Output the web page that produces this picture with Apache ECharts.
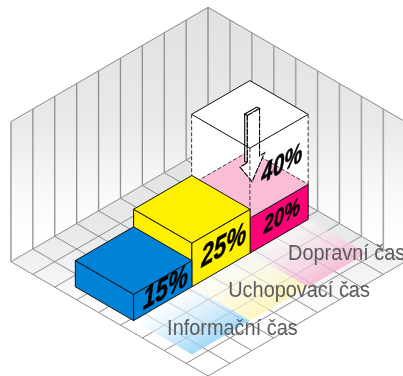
<!DOCTYPE html>
<html>
<head>
<meta charset="utf-8">
<style>
  html, body { margin: 0; padding: 0; background: #fff; }
  #main { width: 403px; height: 376px; }
</style>
<script src="https://cdn.jsdelivr.net/npm/echarts@6/dist/echarts.min.js"></script>
</head>
<body>
<div id="main"></div>
<script>
// data (back to front in the row is Dopravni -> Informacni)
var categories = ['Informační čas', 'Uchopovací čas', 'Dopravní čas'];
var shares = [15, 25, 20];
var shareLabels = ['15%', '25%', '20%'];
var ghostShare = 40;
var ghostLabel = '40%';

// room and row layout, in floor cells and percent
var cells = 9;
var wallTop = 80;
var rowU = [2.46, 5.12];
var rowV = [5.86, 3.2, 0.55];
var barSize = 2.66;
var pctToDepth = 1.75 / 12.7;

var barTop = ['#0082d6', '#fff000', '#f9bdd7'];
var barSide = ['#0082d6', '#fff000', '#ff0077'];
var glow = ['rgba(140,208,246,0.8)', 'rgba(255,244,170,0.75)', 'rgba(245,175,208,0.8)'];
var labelSizes = [30, 30, 24];
var nameU = [6.23, 6.13, 6.04];
var nameV = [8.1, 5.21, 2.39];

// arrow face: offset along v, height in percent
var arrowV = [0.237, -0.32, -0.32, -0.55, 0.02, 0.57, 0.237];
var arrowP = [61, 61, 34, 34, 21.7, 34, 34];

function projector(api) {
  return function (u, v, pct) {
    return api.coord([u - v, u + v - (pct || 0) * pctToDepth]);
  };
}

function poly(points, fill, stroke, dash, width) {
  return {
    type: 'polygon',
    shape: { points: points },
    style: { fill: fill, stroke: stroke || null, lineWidth: width || 1, lineDash: dash || null }
  };
}

function seg(a, b, color, width, dash) {
  return {
    type: 'line',
    shape: { x1: a[0], y1: a[1], x2: b[0], y2: b[1] },
    style: { stroke: color, lineWidth: width, lineDash: dash || null, fill: null }
  };
}

function vGrad(y0, y1, stops) {
  return new echarts.graphic.LinearGradient(0, y0, 0, y1, stops, true);
}

function renderRoom(params, api) {
  var p = projector(api);
  var kids = [];
  var wallFill = vGrad(p(0, 0, wallTop)[1], p(cells, 0, 0)[1], [
    { offset: 0, color: '#dfe1e3' },
    { offset: 0.45, color: '#e8e9ea' },
    { offset: 0.72, color: '#f7f8f8' },
    { offset: 0.92, color: '#ffffff' }
  ]);
  var floorFill = vGrad(p(0, 0)[1], p(cells, cells)[1], [
    { offset: 0, color: '#dfe1e3' },
    { offset: 0.4, color: '#e9eaea' },
    { offset: 0.55, color: '#f4f4f4' },
    { offset: 0.75, color: '#ffffff' }
  ]);
  kids.push(poly([p(0, cells, wallTop), p(0, 0, wallTop), p(0, 0), p(0, cells)], wallFill));
  kids.push(poly([p(0, 0, wallTop), p(cells, 0, wallTop), p(cells, 0), p(0, 0)], wallFill));
  kids.push(poly([p(0, 0), p(cells, 0), p(cells, cells), p(0, cells)], floorFill));

  for (var i = 0; i <= cells; i++) {
    kids.push(seg(p(0, i, wallTop), p(0, i), '#8f8f8f', 1.3));
    kids.push(seg(p(i, 0, wallTop), p(i, 0), '#a6a6a6', 1.6));
    kids.push(seg(p(i, 0), p(i, cells), '#8c8c8c', 1));
    kids.push(seg(p(0, i), p(cells, i), '#8c8c8c', 1));
  }
  kids.push(seg(p(0, cells, wallTop), p(0, 0, wallTop), '#8a8a8a', 1));
  kids.push(seg(p(0, 0, wallTop), p(cells, 0, wallTop), '#8a8a8a', 1));
  return { type: 'group', children: kids };
}

function renderGlow(params, api) {
  var p = projector(api);
  var i = api.value(0);
  var u = rowU[1];
  var v = rowV[i];
  var a = p(u, v + barSize);
  var b = p(u, v);
  var c = p(u + barSize, v);
  var d = p(u + barSize, v + barSize);
  // gradient runs square to the bar's front edge
  var ex = b[0] - a[0];
  var ey = b[1] - a[1];
  var len = Math.sqrt(ex * ex + ey * ey);
  var nx = -ey / len;
  var ny = ex / len;
  var depth = (d[0] - a[0]) * nx + (d[1] - a[1]) * ny;
  var fill = new echarts.graphic.LinearGradient(a[0], a[1], a[0] + nx * depth, a[1] + ny * depth, [
    { offset: 0, color: 'rgba(255,255,255,0.55)' },
    { offset: 1, color: glow[i] }
  ], true);
  return poly([a, b, c, d], fill);
}

function renderGhost(params, api) {
  var p = projector(api);
  var base = shares[2];
  var top = base + ghostShare;
  var u0 = rowU[0], u1 = rowU[1], v0 = rowV[2], v1 = rowV[2] + barSize;
  var dash = [4, 2];
  var kids = [];
  kids.push(poly([p(u0, v1, base), p(u1, v1, base), p(u1, v1, top), p(u0, v1, top)], '#fff'));
  kids.push(poly([p(u1, v1, base), p(u1, v0, base), p(u1, v0, top), p(u1, v1, top)], '#fff'));
  kids.push(poly([p(u0, v0, top), p(u1, v0, top), p(u1, v1, top), p(u0, v1, top)], '#fff'));
  // see-through floor of the box
  kids.push(poly([p(u0, v0, base), p(u1, v0, base), p(u1, v1, base), p(u0, v1, base)], barTop[2]));
  kids.push(seg(p(u0, v1, base), p(u0, v0, base), '#222', 0.9, dash));
  kids.push(seg(p(u0, v0, base), p(u1, v0, base), '#222', 0.9, dash));

  // arrow going down into the box
  var uc = (u0 + u1) / 2 + 0.06;
  var vc = (v0 + v1) / 2 - 0.06;
  var face = arrowV.map(function (dv, k) { return p(uc, vc + dv, arrowP[k]); });
  var back = arrowV.map(function (dv, k) { return p(uc - 0.12, vc + dv, arrowP[k]); });
  kids.push(poly([back[0], back[1], face[1], face[0]], '#fff', '#000', null, 1.1));
  kids.push(poly([back[0], face[0], face[6], back[6]], '#fff', '#000', null, 1.1));
  kids.push(poly(face, '#fff', '#000', [6, 1], 1.1));

  // box edges
  kids.push(poly([p(u0, v0, top), p(u1, v0, top), p(u1, v1, top), p(u0, v1, top)], null, '#111', null, 1));
  kids.push(seg(p(u0, v1, top), p(u0, v1, base), '#333', 1, dash));
  kids.push(seg(p(u1, v0, top), p(u1, v0, base), '#333', 1, dash));
  kids.push(seg(p(u1, v1, top), p(u1, v1, base), '#333', 1, dash));
  kids.push(seg(p(u1, v1, base), p(u1, v0, base), '#111', 1));
  return { type: 'group', children: kids };
}

function renderBar(params, api) {
  var p = projector(api);
  var i = api.value(0);
  var h = api.value(1);
  var u0 = rowU[0], u1 = rowU[1], v0 = rowV[i], v1 = rowV[i] + barSize;
  var line = '#111';
  return {
    type: 'group',
    children: [
      poly([p(u0, v1, h), p(u1, v1, h), p(u1, v1), p(u0, v1)], barSide[i] === '#ff0077' ? barTop[2] : barSide[i], line),
      poly([p(u1, v1, h), p(u1, v0, h), p(u1, v0), p(u1, v1)], barSide[i], line),
      poly([p(u0, v0, h), p(u1, v0, h), p(u1, v1, h), p(u0, v1, h)], barTop[i], i === 2 ? null : line)
    ]
  };
}

// percent labels lie on the right-hand face of each box
function faceLabel(p, v, low, high, text, size) {
  var pos = p(rowU[1], v + barSize / 2 - 0.13, (low + high) / 2);
  return {
    type: 'text',
    x: pos[0],
    y: pos[1],
    skewY: 0.52,
    scaleX: 0.75,
    style: {
      text: text,
      fill: '#000',
      stroke: '#000',
      lineWidth: 0.6,
      font: 'italic bold ' + size + 'px "Liberation Sans"',
      align: 'center',
      verticalAlign: 'middle'
    }
  };
}

function renderLabel(params, api) {
  var p = projector(api);
  var i = api.value(0);
  var kids = [faceLabel(p, rowV[i], 0, shares[i], shareLabels[i], labelSizes[i])];
  var pos = p(nameU[i], nameV[i]);
  kids.push({
    type: 'text',
    x: pos[0],
    y: pos[1],
    scaleX: 0.905,
    style: {
      text: categories[i],
      fill: '#5a5a5c',
      font: '22px "Liberation Sans"',
      align: 'left',
      verticalAlign: 'middle'
    }
  });
  if (i === 2) {
    kids.push(faceLabel(p, rowV[2], shares[2], shares[2] + ghostShare, ghostLabel, 27));
  }
  return { type: 'group', children: kids };
}

var idx = categories.map(function (c, i) { return [i, shares[i]]; });

var chart = echarts.init(document.getElementById('main'));
chart.setOption({
  animation: false,
  backgroundColor: '#fff',
  tooltip: { show: false },
  grid: { left: 0, right: 0, top: 0, bottom: 0 },
  xAxis: { type: 'value', min: -9.5, max: 8.9, show: false },
  yAxis: { type: 'value', min: -11.6, max: 18, inverse: true, show: false },
  series: [
    { type: 'custom', silent: true, renderItem: renderRoom, data: [[0]], encode: { x: 0, y: 0 } },
    { type: 'custom', silent: true, renderItem: renderGlow, data: idx, encode: { x: 0, y: 1 } },
    { type: 'custom', silent: true, renderItem: renderBar, data: [idx[2]], encode: { x: 0, y: 1 } },
    { type: 'custom', silent: true, renderItem: renderGhost, data: [[ghostShare]], encode: { x: 0, y: 0 } },
    { type: 'custom', silent: true, renderItem: renderBar, data: [idx[1], idx[0]], encode: { x: 0, y: 1 } },
    { type: 'custom', silent: true, renderItem: renderLabel, data: idx, encode: { x: 0, y: 1 } }
  ]
});
</script>
</body>
</html>
